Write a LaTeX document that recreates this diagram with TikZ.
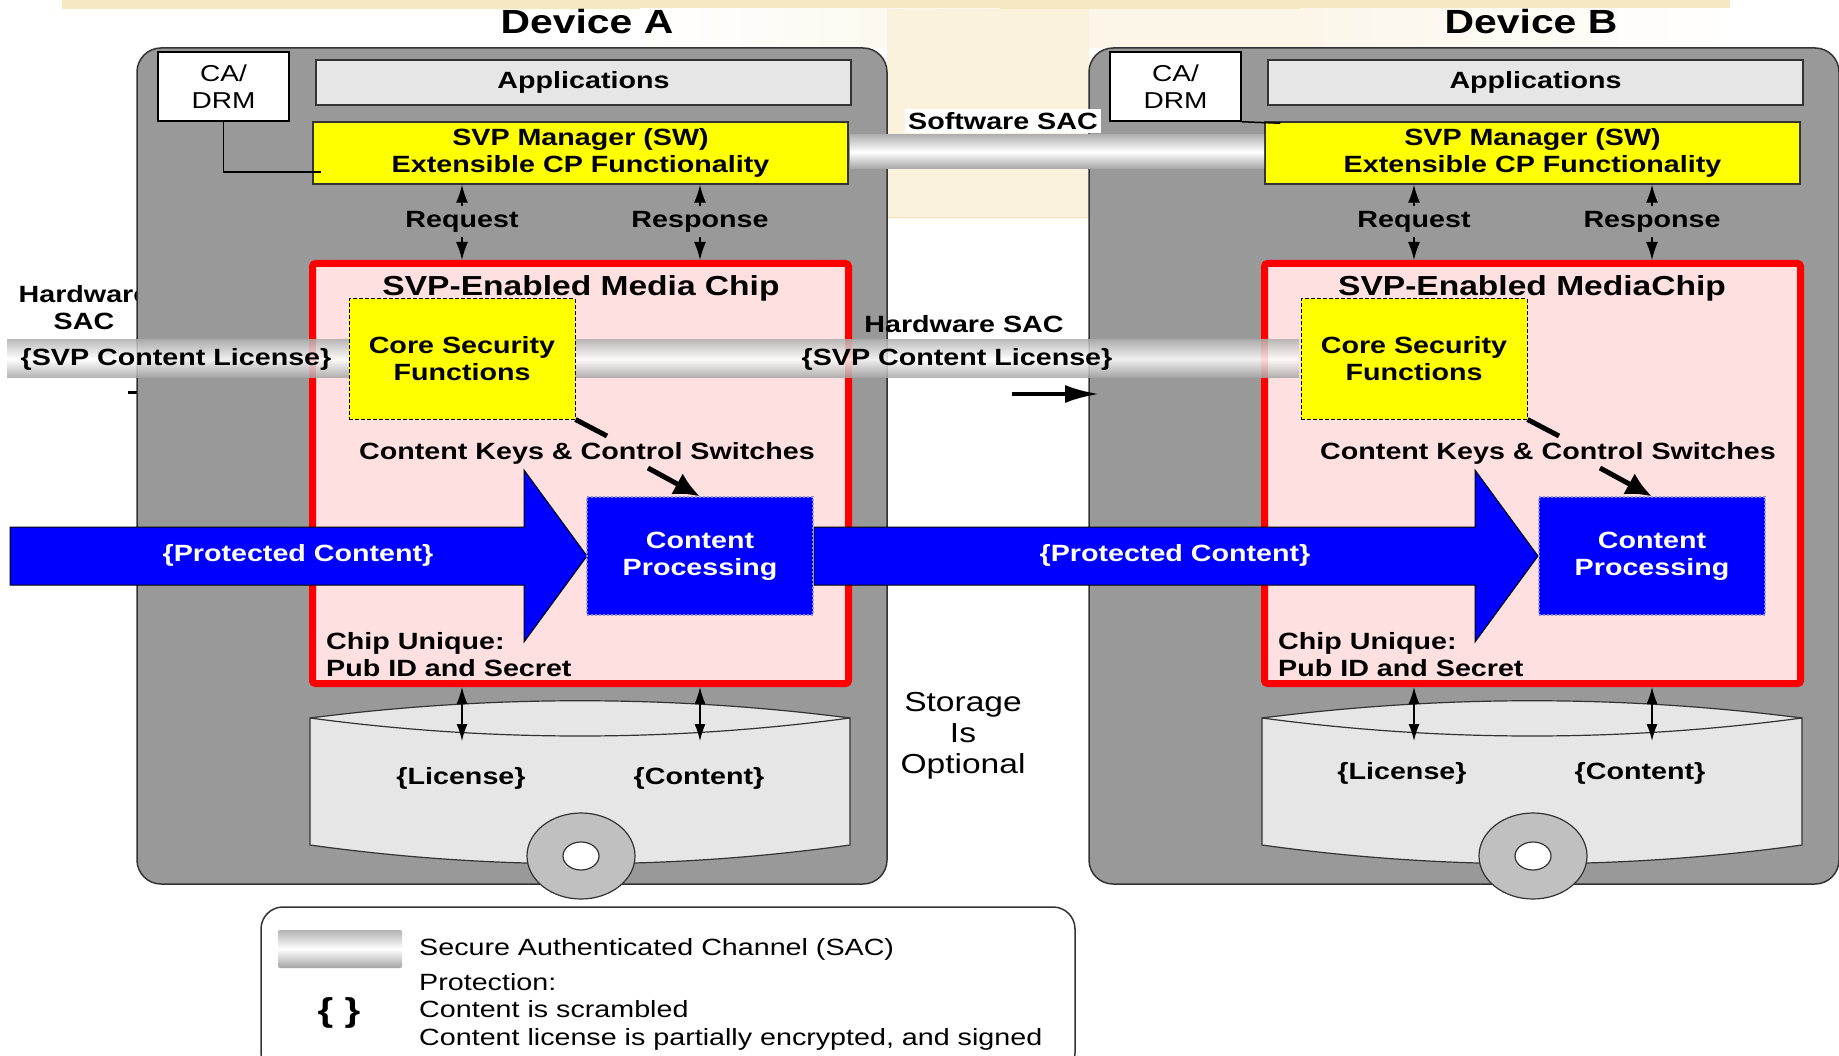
\documentclass[tikz,border=0pt]{standalone}
\usepackage{fontspec}
\setmainfont{Liberation Sans}[FakeStretch=1.22]
\usetikzlibrary{arrows.meta}

\definecolor{devgray}{HTML}{999999}
\definecolor{appgray}{HTML}{E6E6E6}
\definecolor{chippink}{HTML}{FFE0E0}
\definecolor{chipred}{HTML}{FF0000}
\definecolor{svpyellow}{HTML}{FFFF00}
\definecolor{cpblue}{HTML}{0000FF}
\definecolor{cpdot}{HTML}{8C8CFF}
\definecolor{diskgray}{HTML}{C0C0C0}
\definecolor{edge}{HTML}{333333}
\definecolor{cream}{HTML}{FBF2DE}
\definecolor{creamtop}{HTML}{F5E8C3}
\definecolor{creamlight}{HTML}{FCF6E9}
\definecolor{tanline}{HTML}{EFDDB5}

\newcommand\fsz[2]{\fontsize{#1}{#2}\selectfont}

\tikzset{
  lbl/.style={font=\bfseries\fsz{23.5}{27}, align=center, inner sep=0pt},
  plain/.style={font=\fsz{23}{27}, align=center, inner sep=0pt},
  devbox/.style={draw=edge, line width=1.5pt, fill=devgray, rounded corners=24pt},
  appbox/.style={draw=edge, line width=1.5pt, fill=appgray},
  cabox/.style={draw=black, line width=1.5pt, fill=white},
  mgrbox/.style={draw=edge, line width=1.5pt, fill=svpyellow},
  chipbox/.style={draw=chipred, line width=7pt, fill=chippink, rounded corners=3pt},
  corebox/.style={draw=black, line width=1pt, dash pattern=on 4pt off 2pt, fill=svpyellow},
  cpbox/.style={draw=cpdot, line width=1.2pt, dash pattern=on 2pt off 2pt, fill=cpblue},
  thinarrow/.style={line width=1.4pt, -{Latex[length=18pt,width=12pt]}},
  botharrow/.style={line width=1.4pt, {Latex[length=17pt,width=11pt]}-{Latex[length=17pt,width=11pt]}},
  fatarrow/.style={line width=5pt, -{Latex[length=26pt,width=24pt]}},
  bigflow/.style={fill=cpblue, draw=black, line width=1pt},
  sacband/.style={top color=black!30, bottom color=black!36, middle color=white},
  storeline/.style={draw=edge, line width=1.2pt},
}

% Device: grey housing, software stack, media chip and storage
% #1 name prefix, #2 horizontal shift, #3 chip title, #4 its x,
% #5 / #6 x of the storage labels, #7 their y
\newcommand\devback[7]{%
\begin{scope}[xshift=#2]
  \node[devbox, minimum width=750pt, minimum height=836pt] (#1box) at (512,466) {};
  \node[cabox, plain, minimum width=131pt, minimum height=69pt] (#1ca) at (223.5,86.5) {CA/\\DRM};
  \node[appbox, lbl, minimum width=535pt, minimum height=45pt] (#1app) at (583.5,82.5) {Applications};
  \node[mgrbox, lbl, minimum width=535pt, minimum height=62pt] (#1mgr) at (580.5,153)
       {SVP Manager (SW)\\Extensible CP Functionality};
  \node[lbl] (#1req) at (462,222) {Request};
  \node[lbl] (#1resp) at (700,222) {Response};
  \node[chipbox, minimum width=536pt, minimum height=420pt] (#1chip) at (580.5,473.5) {};
  \node[font=\bfseries\fsz{27.5}{30}, inner sep=0pt] (#1chiptitle) at (#4,288) {#3};
  \draw[thinarrow] ([yshift=5pt]#1req.north) -- (#1req.north |- #1mgr.south);
  \draw[thinarrow] ([yshift=5pt]#1resp.north) -- (#1resp.north |- #1mgr.south);
  \draw[thinarrow] ([yshift=-4pt]#1req.south) -- (#1req.south |- #1chip.north);
  \draw[thinarrow] ([yshift=-4pt]#1resp.south) -- (#1resp.south |- #1chip.north);
  % storage drum
  \filldraw[storeline, fill=appgray] (310,718) .. controls (490,695) and (670,695) .. (850,718)
       -- (850,845) .. controls (670,870) and (490,870) .. (310,845) -- cycle;
  \draw[storeline] (310,718) .. controls (490,742) and (670,742) .. (850,718);
  \filldraw[storeline, fill=diskgray] (581,856) ellipse [x radius=54pt, y radius=43pt];
  \filldraw[storeline, fill=white] (581,856) ellipse [x radius=18pt, y radius=14pt];
  \coordinate (#1licin) at (462,741);
  \coordinate (#1conin) at (700,741);
  \draw[botharrow] (#1req |- #1chip.south) -- (#1licin);
  \draw[botharrow] (#1resp |- #1chip.south) -- (#1conin);
  \node[lbl] (#1lic) at (#5,#7) {\{License\}};
  \node[lbl] (#1con) at (#6,#7) {\{Content\}};
\end{scope}}

% Device: security core, key path and content processing
% #1 name prefix, #2 horizontal shift, #3 x of the key label
\newcommand\devfront[3]{%
\begin{scope}[xshift=#2]
  \node[corebox, lbl, minimum width=226pt, minimum height=120pt] (#1core) at (462,359)
       {Core Security\\Functions};
  \node[lbl] (#1keys) at (#3,453) {Content Keys \& Control Switches};
  \node[cpbox, lbl, text=white, minimum width=226pt, minimum height=118pt] (#1cp) at (700,556)
       {Content\\Processing};
  \coordinate (#1kend) at (607,436);
  \coordinate (#1kstart) at (648,468);
  \draw[line width=5pt] (#1core.south east) -- (#1kend);
  \draw[fatarrow] (#1kstart) -- (#1cp.north);
  \node[lbl, align=left, anchor=west] (#1uid) at (326,654.5) {Chip Unique:\\Pub ID and Secret};
\end{scope}}

\begin{document}
\begin{tikzpicture}[x=1pt,y=-1pt]
\useasboundingbox (0,0) rectangle (1839,1056);
\clip (0,0) rectangle (1839,1056);
\fill[white] (0,0) rectangle (1839,1056);

% faint slide backdrop
\fill[creamtop] (62,0) rectangle (1730,9);
\shade[left color=white, right color=creamlight] (640,9) rectangle (1000,48);
\shade[left color=creamlight, right color=white] (1300,9) rectangle (1740,48);
\fill[creamlight] (1000,9) rectangle (1300,48);
\fill[cream] (887,9) rectangle (1089,218);
\draw[tanline, line width=1pt] (887,218) -- (1089,218);

% incoming hardware channel, partly behind device A
\node[lbl] (hwsacL) at (84,307.5) {Hardware\\SAC};
\coordinate (stubA) at (128,393);
\coordinate (stubB) at (142,393);
\draw[line width=3pt] (stubA) -- (stubB);

% titles
\node[font=\bfseries\fsz{33.5}{36}, inner sep=0pt] (titleA) at (587,22) {Device A};
\node[font=\bfseries\fsz{33.5}{36}, inner sep=0pt] (titleB) at (1531,22) {Device B};

\devback{A}{0pt}{SVP-Enabled Media Chip}{581}{461}{699}{778}
\devback{B}{952pt}{SVP-Enabled MediaChip}{580}{450}{688}{773}

% CA/DRM links into the SVP managers
\draw[black, line width=1.5pt] (Aca.south) |- ([xshift=9pt,yshift=-19pt]Amgr.west);
\draw[black, line width=1.5pt] (Bca.south east) -- ([xshift=16pt,yshift=-2pt]Bmgr.north west);

% software secure authenticated channel
\shade[sacband] (850,135) rectangle (1264,169);
\node[lbl, fill=white, inner xsep=3pt, inner ysep=3pt] (swsac) at (1003,121) {Software SAC};

% hardware secure authenticated channel
\shade[sacband, opacity=0.85] (7,340) rectangle (1299,378);
\node[lbl] (licL) at (176,359) {\{SVP Content License\}};
\node[lbl] (licM) at (957,359) {\{SVP Content License\}};
\node[lbl] (hwsacM) at (964,324) {Hardware SAC};
\coordinate (hwfrom) at (1012,394);
\coordinate (hwto) at (1099,394);
\draw[line width=4pt, -{Latex[length=34pt,width=18pt]}] (hwfrom) -- (hwto);

% protected content flow
\filldraw[bigflow] (10,527) -- (524,527) -- (524,470) -- (587,556) -- (524,642)
   -- (524,585) -- (10,585) -- cycle;
\node[lbl, text=white] (pcA) at (298,555) {\{Protected Content\}};
\filldraw[bigflow] (814,527) -- (1475,527) -- (1475,470) -- (1538,556) -- (1475,642)
   -- (1475,585) -- (814,585) -- cycle;
\node[lbl, text=white] (pcB) at (1175,555) {\{Protected Content\}};

\devfront{A}{0pt}{587}
\devfront{B}{952pt}{596}

\node[font=\fsz{27.5}{31}, align=center, inner sep=0pt] (note) at (963,736) {Storage\\Is\\Optional};

% legend
\node[draw=edge, line width=1.5pt, fill=white, rounded corners=22pt,
      minimum width=814pt, minimum height=168pt] (legend) at (668,991) {};
\shade[sacband, rounded corners=2pt] (278,930) rectangle (402,968);
\node[plain, font=\fsz{23.5}{27}, anchor=west] (legsac) at (419,949) {Secure Authenticated Channel (SAC)};
\node[plain, font=\fsz{23.5}{27.5}, align=left, anchor=west] (legprot) at (419,1011.5)
     {Protection:\\Content is scrambled\\Content license is partially encrypted, and signed};
\node[font=\bfseries\fsz{33}{36}, inner sep=0pt] (legbrace) at (339,1013) {\{ \}};
\end{tikzpicture}
\end{document}
